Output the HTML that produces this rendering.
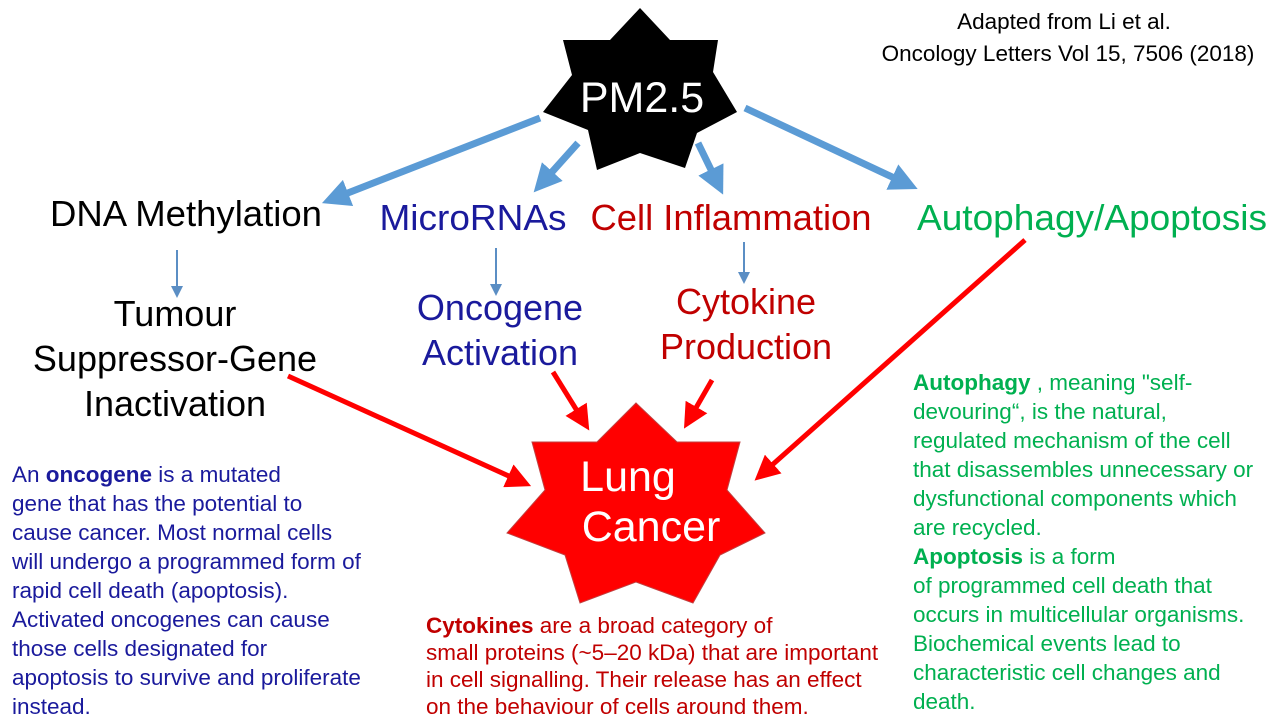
<!DOCTYPE html>
<html><head><meta charset="utf-8"><style>
html,body{margin:0;padding:0;background:#fff;}
svg{display:block;font-family:"Liberation Sans",Arial,sans-serif;}
</style></head><body>
<svg width="1280" height="720" viewBox="0 0 1280 720" xmlns="http://www.w3.org/2000/svg">
<defs>
<marker id="bh" markerWidth="4" markerHeight="4" refX="2" refY="2" orient="auto" markerUnits="strokeWidth"><path d="M0,0 L4,2 L0,4 z" fill="#5b9bd5"/></marker>
<marker id="rh" markerWidth="5" markerHeight="5" refX="3" refY="2.5" orient="auto" markerUnits="strokeWidth"><path d="M0,0 L5,2.5 L0,5 z" fill="#ff0000"/></marker>
<marker id="sh" markerWidth="6" markerHeight="6" refX="3" refY="3" orient="auto" markerUnits="strokeWidth"><path d="M0,0 L6,3 L0,6 z" fill="#5b8ec4"/></marker>
</defs>
<text x="1064" y="29" font-size="22.5" text-anchor="middle">Adapted from Li et al.</text>
<text x="1068" y="61" font-size="22.5" text-anchor="middle">Oncology Letters Vol 15, 7506 (2018)</text>

<polygon points="640,8 610,40 563,40 572,75 543,112 588,130 597,170 640,153 685,168 697,133 737,112 713,72 718,40 670,40" fill="#000"/>
<text x="642" y="112" font-size="43" fill="#fff" text-anchor="middle">PM2.5</text>

<g stroke="#5b9bd5" stroke-width="7" fill="none">
<line x1="540" y1="118" x2="335" y2="198" marker-end="url(#bh)"/>
<line x1="578" y1="143" x2="543" y2="182" marker-end="url(#bh)"/>
<line x1="698" y1="143" x2="717" y2="182" marker-end="url(#bh)"/>
<line x1="745" y1="108" x2="905" y2="183" marker-end="url(#bh)"/>
</g>

<g font-size="36" text-anchor="middle">
<text x="186" y="226" textLength="272" lengthAdjust="spacingAndGlyphs">DNA Methylation</text>
<text x="473" y="230" fill="#1a1a9c" textLength="187" lengthAdjust="spacingAndGlyphs">MicroRNAs</text>
<text x="731" y="230" fill="#c00000" textLength="281" lengthAdjust="spacingAndGlyphs">Cell  Inflammation</text>
<text x="1092" y="230" fill="#00b050" textLength="350" lengthAdjust="spacingAndGlyphs">Autophagy/Apoptosis</text>
</g>

<g stroke="#5b8ec4" stroke-width="2" fill="none">
<line x1="177" y1="250" x2="177" y2="292" marker-end="url(#sh)"/>
<line x1="496" y1="248" x2="496" y2="290" marker-end="url(#sh)"/>
<line x1="744" y1="242" x2="744" y2="278" marker-end="url(#sh)"/>
</g>

<g font-size="36" text-anchor="middle">
<text x="175" y="326">Tumour</text>
<text x="175" y="371">Suppressor-Gene</text>
<text x="175" y="416">Inactivation</text>
<text x="500" y="320" fill="#1a1a9c">Oncogene</text>
<text x="500" y="365" fill="#1a1a9c">Activation</text>
<text x="746" y="314" fill="#c00000">Cytokine</text>
<text x="746" y="359" fill="#c00000">Production</text>
</g>

<polygon points="636,403 677,442 740,442 727,490 765,533 720,555 693,603 636,582 580,603 565,555 507,533 545,490 532,442 597,442" fill="#ff0000" stroke="#c04040" stroke-width="1"/>
<text x="628" y="491" font-size="43" fill="#fff" text-anchor="middle">Lung</text>
<text x="651" y="541" font-size="43" fill="#fff" text-anchor="middle">Cancer</text>

<g stroke="#ff0000" stroke-width="5" fill="none">
<line x1="288" y1="376" x2="522" y2="482" marker-end="url(#rh)"/>
<line x1="553" y1="372" x2="584" y2="422" marker-end="url(#rh)"/>
<line x1="712" y1="380" x2="689" y2="420" marker-end="url(#rh)"/>
<line x1="1025" y1="240" x2="762" y2="474" marker-end="url(#rh)"/>
</g>

<g font-size="22.5" fill="#1a1a9c">
<text x="12" y="482">An <tspan font-weight="bold">oncogene</tspan> is a mutated</text>
<text x="12" y="511">gene that has the potential to</text>
<text x="12" y="540">cause cancer. Most normal cells</text>
<text x="12" y="569">will undergo a programmed form of</text>
<text x="12" y="598">rapid cell death (apoptosis).</text>
<text x="12" y="627">Activated oncogenes can cause</text>
<text x="12" y="656">those cells designated for</text>
<text x="12" y="685">apoptosis to survive and proliferate</text>
<text x="12" y="714">instead.</text>
</g>

<g font-size="22.5" fill="#c00000">
<text x="426" y="633"><tspan font-weight="bold">Cytokines</tspan> are a broad category of</text>
<text x="426" y="660">small proteins (~5–20 kDa) that are important</text>
<text x="426" y="687">in cell signalling.  Their release has an effect</text>
<text x="426" y="714">on the behaviour of cells around them.</text>
</g>

<g font-size="22.5" fill="#00b050">
<text x="913" y="390"><tspan font-weight="bold">Autophagy</tspan> , meaning "self-</text>
<text x="913" y="419">devouring“,  is the natural,</text>
<text x="913" y="448">regulated mechanism of the cell</text>
<text x="913" y="477">that disassembles unnecessary or</text>
<text x="913" y="506">dysfunctional components which</text>
<text x="913" y="535">are recycled.</text>
<text x="913" y="564" font-weight="bold">Apoptosis<tspan font-weight="normal"> is a form</tspan></text>
<text x="913" y="593">of programmed cell death that</text>
<text x="913" y="622">occurs in multicellular organisms.</text>
<text x="913" y="651">Biochemical events lead to</text>
<text x="913" y="680">characteristic cell changes and</text>
<text x="913" y="709">death.</text>
</g>
</svg>
</body></html>
